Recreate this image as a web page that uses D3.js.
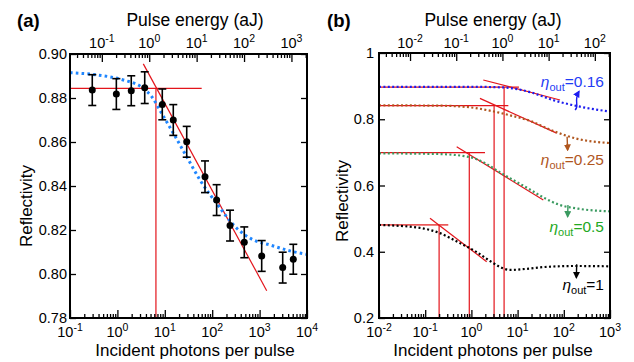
<!DOCTYPE html>
<html>
<head>
<meta charset="utf-8">
<script src="https://cdn.jsdelivr.net/npm/d3@7"></script>
<style>
  body { margin: 0; background: #fff; }
  svg { font-family: "Liberation Sans", Arial, sans-serif; }
</style>
</head>
<body>
<svg id="chart" width="634" height="362"></svg>
<script>
// energy of one photon in aJ (top axis = bottom axis * this)
const aJPerPhoton = 0.213;

// panel (a): measured reflectivity
const photonsA = [0.295, 0.95, 1.96, 3.77, 8.85, 15.1, 29, 70.5, 124, 238, 475, 1107, 3070, 5140];
const reflA    = [0.8836, 0.8818, 0.8833, 0.8847, 0.8771, 0.8700, 0.8601, 0.8442, 0.8336, 0.8220, 0.8144, 0.8082, 0.8029, 0.8067];
const errA     = [0.007, 0.007, 0.0068, 0.0072, 0.007, 0.007, 0.007, 0.0072, 0.007, 0.007, 0.007, 0.007, 0.007, 0.0068];
// panel (a): fit curve
const fitN = [0.1, 0.366, 1.33, 3.26, 5.3, 8.6, 15.1, 29, 55.3, 124, 329, 736, 1656, 4375, 10000];
const fitR = [0.8915, 0.8905, 0.8882, 0.8849, 0.8806, 0.873, 0.864, 0.8533, 0.8427, 0.8321, 0.8208, 0.8155, 0.8132, 0.8105, 0.8089];
// panel (a): guide lines [N, R]
const guideA = [
  [[0.1, 0.8844], [60, 0.8844]],
  [[6.5, 0.8844], [6.5, 0.78]],
  [[3.52, 0.8955], [1413, 0.7924]]
];

// panel (b): simulated curves
const etaLabels = ["0.16", "0.25", "0.5", "1"];
const nBlue  = [0.01, 0.93, 4.8, 18.6, 58, 224, 1000];
const rBlue  = [0.898, 0.898, 0.896, 0.882, 0.858, 0.838, 0.823];
const nBrown = [0.01, 0.21, 0.93, 2.5, 6.8, 18.6, 58, 182, 1000];
const rBrown = [0.842, 0.841, 0.836, 0.826, 0.812, 0.795, 0.765, 0.742, 0.728];
const nGreen = [0.01, 0.2, 0.9, 2.2, 3.6, 7.7, 16.5, 35, 75, 205, 1000];
const rGreen = [0.697, 0.695, 0.686, 0.664, 0.645, 0.618, 0.592, 0.565, 0.543, 0.530, 0.522];
const nBlack = [0.01, 0.077, 0.2, 0.566, 1.2, 2.53, 4.16, 6.85, 14.5, 39, 174, 1000];
const rBlack = [0.481, 0.472, 0.457, 0.426, 0.402, 0.372, 0.354, 0.345, 0.348, 0.354, 0.357, 0.356];
// panel (b): guide lines per curve: horizontal, vertical, tangent
const guideB = [
  [[[0.01, 0.897], [10.7, 0.897]], [[5.1, 0.897], [5.1, 0.2]], [[1.81, 0.9185], [82.8, 0.858]]],
  [[[0.01, 0.841], [6.3, 0.841]],  [[3.1, 0.841], [3.1, 0.2]], [[1.53, 0.863], [70, 0.758]]],
  [[[0.01, 0.699], [1.97, 0.699]], [[0.9, 0.699], [0.9, 0.2]], [[0.48, 0.717], [36, 0.556]]],
  [[[0.01, 0.481], [0.316, 0.481]], [[0.2, 0.481], [0.2, 0.2]], [[0.127, 0.501], [2.14, 0.37]]]
];
// arrows from curve to label [tail, head]
const arrowsB = [
  [[175, 0.828], [213, 0.884]],
  [[118, 0.747], [121, 0.707]],
  [[123, 0.541], [121, 0.506]],
  [[190, 0.362], [187, 0.322]]
];

const yTicksA = [0.78, 0.80, 0.82, 0.84, 0.86, 0.88, 0.90];
const yTicksB = [0.2, 0.4, 0.6, 0.8, 1];

const svg = d3.select("#chart");
const red = "#e3141b";

function expLabel(g, x, y, e) {
  const t = g.append("text").attr("x", x).attr("y", y)
    .attr("text-anchor", "middle").attr("font-size", 14.5);
  t.append("tspan").text("10");
  t.append("tspan").attr("dy", -6).attr("font-size", 10.5).text(e);
}

function logAxis(scale, y, dir, exps, labelY) {
  const vals = scale.ticks();
  const isMajor = v => Math.abs(Math.log10(v) - Math.round(Math.log10(v))) < 1e-6;
  const major = vals.filter(isMajor), minor = vals.filter(v => !isMajor(v));
  const mk = dir === "bottom" ? d3.axisBottom : d3.axisTop;
  [[minor, 4], [major, 8]].forEach(([tv, len]) => {
    const g = svg.append("g").attr("transform", "translate(0," + y + ")")
      .call(mk(scale).tickValues(tv).tickSize(-len).tickFormat(""));
    g.select(".domain").remove();
    g.selectAll("line").attr("stroke-width", 1.3);
  });
  exps.forEach(e => expLabel(svg, scale(Math.pow(10, e)), labelY, e));
}

function linAxis(scale, x0, x1, ticks, fmt, pad) {
  const gl = svg.append("g").attr("transform", "translate(" + x0 + ",0)")
    .call(d3.axisLeft(scale).tickValues(ticks).tickSize(-6).tickPadding(pad).tickFormat(fmt));
  gl.select(".domain").remove();
  gl.selectAll("line").attr("stroke-width", 1.3);
  gl.selectAll("text").attr("font-size", 14.5).attr("font-family", "Liberation Sans, Arial, sans-serif").attr("fill", "#000");
  const gr = svg.append("g").attr("transform", "translate(" + x1 + ",0)")
    .call(d3.axisRight(scale).tickValues(ticks).tickSize(-6).tickFormat(""));
  gr.select(".domain").remove();
  gr.selectAll("line").attr("stroke-width", 1.3);
}

function frame(x0, x1, y0, y1) {
  svg.append("rect").attr("x", x0).attr("y", y0).attr("width", x1 - x0).attr("height", y1 - y0)
    .attr("fill", "none").attr("stroke", "#000").attr("stroke-width", 2);
}

function titles(cx, left, ylabX, ylabY, tag) {
  svg.append("text").attr("x", cx).attr("y", 26).attr("text-anchor", "middle")
    .attr("font-size", 17.5).text("Pulse energy (aJ)");
  svg.append("text").attr("x", cx).attr("y", 356).attr("text-anchor", "middle")
    .attr("font-size", 17).text("Incident photons per pulse");
  svg.append("text").attr("transform", "translate(" + ylabX + "," + ylabY + ") rotate(-90)")
    .attr("text-anchor", "middle").attr("font-size", 17).text("Reflectivity");
  svg.append("text").attr("x", left).attr("y", 27).attr("font-size", 18.5)
    .attr("font-weight", "bold").text(tag);
}

// ---------- panel (a) ----------
const xA = d3.scaleLog().domain([0.1, 1e4]).range([70, 307]);
const xAtop = d3.scaleLog().domain([0.1 * aJPerPhoton, 1e4 * aJPerPhoton]).range([70, 307]);
const yA = d3.scaleLinear().domain([0.78, 0.90]).range([318, 54]);

const segA = d3.line().x(d => xA(d[0])).y(d => yA(d[1]));
guideA.forEach(s => svg.append("path").attr("d", segA(s)).attr("stroke", red)
  .attr("stroke-width", 1.2).attr("fill", "none"));

svg.append("path")
  .attr("d", d3.line().curve(d3.curveMonotoneX).x(d => xA(d[0])).y(d => yA(d[1]))(fitN.map((n, i) => [n, fitR[i]])))
  .attr("fill", "none").attr("stroke", "#1f86ff").attr("stroke-width", 3)
  .attr("stroke-dasharray", "2.6 3.2");

const pts = photonsA.map((n, i) => ({ n: n, r: reflA[i], e: errA[i] }));
const eb = svg.append("g").attr("stroke", "#000").attr("stroke-width", 1.6);
pts.forEach(p => {
  const x = xA(p.n);
  eb.append("line").attr("x1", x).attr("x2", x).attr("y1", yA(p.r - p.e)).attr("y2", yA(p.r + p.e));
  eb.append("line").attr("x1", x - 4).attr("x2", x + 4).attr("y1", yA(p.r - p.e)).attr("y2", yA(p.r - p.e));
  eb.append("line").attr("x1", x - 4).attr("x2", x + 4).attr("y1", yA(p.r + p.e)).attr("y2", yA(p.r + p.e));
});
svg.append("g").selectAll("circle").data(pts).enter().append("circle")
  .attr("cx", d => xA(d.n)).attr("cy", d => yA(d.r)).attr("r", 3.5).attr("fill", "#000");

linAxis(yA, 70, 307, yTicksA, d3.format(".2f"), 3);
logAxis(xA, 318, "bottom", [-1, 0, 1, 2, 3, 4], 337);
logAxis(xAtop, 54, "top", [-1, 0, 1, 2, 3], 48);
frame(70, 307, 54, 318);
titles(195, 17, 32, 206, "(a)");

// ---------- panel (b) ----------
const xB = d3.scaleLog().domain([0.01, 1000]).range([379, 610]);
const xBtop = d3.scaleLog().domain([0.01 * aJPerPhoton, 1000 * aJPerPhoton]).range([379, 610]);
const yB = d3.scaleLinear().domain([0.2, 1]).range([318, 53]);
const segB = d3.line().x(d => xB(d[0])).y(d => yB(d[1]));

guideB.forEach((set, k) => set.forEach((s, j) => {
  const light = k === 3 && j === 0;
  svg.append("path").attr("d", segB(s)).attr("fill", "none")
    .attr("stroke", light ? "#ea5a5a" : red).attr("stroke-width", light ? 1.8 : 1.2);
}));

const curvesB = [
  { n: nBlue, r: rBlue, c: "#1c1cf0", t: "#1f3cf5" },
  { n: nBrown, r: rBrown, c: "#b0561e", t: "#b0561e" },
  { n: nGreen, r: rGreen, c: "#3a9a60", t: "#22a822" },
  { n: nBlack, r: rBlack, c: "#000", t: "#000" }
];
const lineB = d3.line().curve(d3.curveMonotoneX).x(d => xB(d[0])).y(d => yB(d[1]));
curvesB.forEach(cv => {
  svg.append("path").attr("d", lineB(cv.n.map((n, i) => [n, cv.r[i]])))
    .attr("fill", "none").attr("stroke", cv.c).attr("stroke-width", 2.2)
    .attr("stroke-dasharray", "2 2.4");
});

// arrowheads
const defs = svg.append("defs");
curvesB.forEach((cv, i) => {
  defs.append("marker").attr("id", "ah" + i).attr("viewBox", "0 0 10 10")
    .attr("refX", 8).attr("refY", 5).attr("markerWidth", 5).attr("markerHeight", 5)
    .attr("orient", "auto").append("path").attr("d", "M0,0L10,5L0,10z").attr("fill", cv.c);
});
arrowsB.forEach((a, i) => {
  const x0 = xB(a[0][0]), y0 = yB(a[0][1]), x1 = xB(a[1][0]), y1 = yB(a[1][1]);
  // the long blue arrow has a small wiggle, the short ones are straight
  const d = i === 0
    ? "M" + x0 + "," + y0 + "C" + (x0 + 5) + "," + (y0 - 4) + " " + (x0 - 2) + "," + (y0 - 8) + " " + x1 + "," + y1
    : "M" + x0 + "," + y0 + "L" + x1 + "," + y1;
  svg.append("path").attr("d", d)
    .attr("fill", "none").attr("stroke", curvesB[i].c).attr("stroke-width", 1.4)
    .attr("marker-end", "url(#ah" + i + ")");
});

const labelBase = [87, 165, 231.5, 290];
etaLabels.forEach((v, i) => {
  const t = svg.append("text").attr("x", 604).attr("y", labelBase[i])
    .attr("text-anchor", "end").attr("font-size", 15.5).attr("fill", curvesB[i].t);
  t.append("tspan").attr("font-style", "italic").text("\u03B7");
  t.append("tspan").attr("font-size", 11).attr("dy", 4).text("out");
  t.append("tspan").attr("dy", -4).text("=" + v);
});

linAxis(yB, 379, 610, yTicksB, d => String(+d.toFixed(1)), 5);
logAxis(xB, 318, "bottom", [-2, -1, 0, 1, 2, 3], 337);
logAxis(xBtop, 53, "top", [-2, -1, 0, 1, 2], 48);
frame(379, 610, 53, 318);
titles(493, 327, 348, 201, "(b)");
</script>
</body>
</html>
